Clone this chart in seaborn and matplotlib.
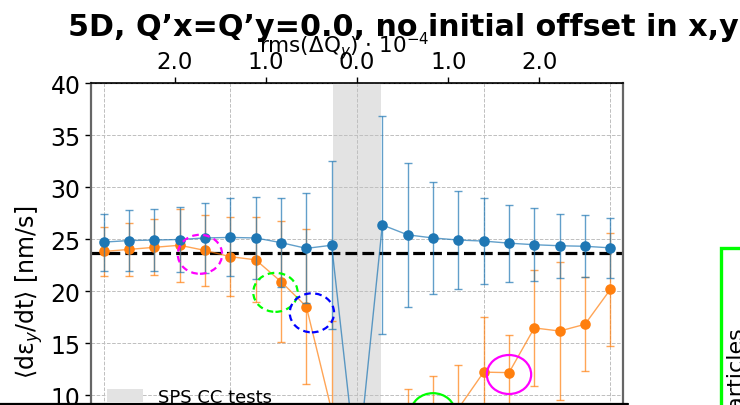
import matplotlib
matplotlib.use("Agg")
import matplotlib.pyplot as plt
from matplotlib.patches import Ellipse, Rectangle, Patch
from matplotlib.lines import Line2D
from matplotlib.ticker import FuncFormatter, MultipleLocator
import seaborn as sns

# scan steps (index 10 is the centre of the scan)
step = list(range(21))

# blue series: mean vertical emittance growth rate [nm/s] and its error
blue_rate = [24.7, 24.85, 24.9, 24.95, 25.1, 25.15, 25.1, 24.65, 24.1, 24.4,
             2.5, 26.35, 25.4, 25.1, 24.9, 24.8, 24.6, 24.45, 24.35, 24.3, 24.15]
blue_err = [2.75, 2.95, 3.0, 3.15, 3.4, 3.75, 3.95, 4.3, 5.3, 8.1,
            2.0, 10.45, 6.9, 5.4, 4.7, 4.15, 3.7, 3.5, 3.1, 3.0, 2.9]

# orange series: mean vertical emittance growth rate [nm/s] and its error
orange_rate = [23.8, 24.0, 24.2, 24.4, 23.9, 23.3, 23.0, 20.9, 18.5, 8.5,
               1.0, 3.0, 6.0, 7.5, 8.7, 12.2, 12.15, 16.45, 16.15, 16.8, 20.15]
orange_err = [2.4, 2.55, 2.7, 3.5, 3.4, 3.8, 4.1, 5.8, 7.45, 8.6,
              1.0, 3.0, 4.6, 4.3, 4.2, 5.3, 3.65, 5.6, 6.65, 4.5, 5.45]

# reference growth rate (dashed line)
ref_rate = 23.7

# scan range covered by the SPS CC tests
band_lo, band_hi = 9.05, 10.95

# top axis: rms tune spread, centred on step 10
centre_step = 10
steps_per_unit = 3.6
top_ticks = [-2.0, -1.0, 0.0, 1.0, 2.0]

# highlighted points: (series, step, dx, dy, colour, linestyle)
highlights = [
    ("orange", 4, -0.2, -0.37, "#ff00ff", (0, (3, 2))),
    ("orange", 7, -0.22, -1.03, "#00ff00", (0, (3, 2))),
    ("orange", 8, 0.22, -0.6, "#0000ff", (0, (3, 2))),
    ("orange", 16, 0.0, -0.18, "#ff00ff", "-"),
    ("orange", 13, 0.0, 0.8, "#00ff00", "-"),
]

BLUE = "#1f77b4"
ORANGE = "#ff7f0e"

sns.set_style("white")
plt.rcParams["font.family"] = ["DejaVu Sans"]
plt.rcParams.update({"text.color": "black", "axes.labelcolor": "black",
                     "xtick.color": "black", "ytick.color": "black"})

fig = plt.figure(figsize=(7.4, 4.06), dpi=100)
W, H = 740.0, 406.0
ax = fig.add_axes([91 / W, 1 - 500 / H, 532 / W, 416 / H])

ax.set_xlim(-0.5, 20.5)
ax.set_ylim(0, 40)

ax.grid(True, linestyle="--", color="0.75", linewidth=0.7)
ax.set_axisbelow(True)
ax.xaxis.set_major_locator(MultipleLocator(5))
ax.yaxis.set_major_locator(MultipleLocator(5))

ax.axvspan(band_lo, band_hi, color="0.89", zorder=0.5, lw=0, label="SPS CC tests")
ax.axhline(ref_rate, color="black", linestyle="--", linewidth=2.3, zorder=2)

# orange series
ax.errorbar(step, orange_rate, yerr=orange_err, fmt="none", ecolor=ORANGE,
            elinewidth=1.0, capsize=3, capthick=1.0, alpha=0.7, zorder=3)
sns.lineplot(x=step, y=orange_rate, ax=ax, color=ORANGE, linewidth=1.0,
             alpha=0.7, zorder=3, legend=False)
sns.scatterplot(x=step, y=orange_rate, ax=ax, color=ORANGE, s=58,
                linewidth=0, zorder=4, legend=False)

# blue series
ax.errorbar(step, blue_rate, yerr=blue_err, fmt="none", ecolor=BLUE,
            elinewidth=1.0, capsize=3, capthick=1.0, alpha=0.7, zorder=5)
sns.lineplot(x=step, y=blue_rate, ax=ax, color=BLUE, linewidth=1.0,
             alpha=0.7, zorder=5, legend=False)
sns.scatterplot(x=step, y=blue_rate, ax=ax, color=BLUE, s=58,
                linewidth=0, zorder=6, legend=False)

series = {"orange": orange_rate, "blue": blue_rate}
for name, i, dx, dy, col, ls in highlights:
    ax.add_patch(Ellipse((step[i] + dx, series[name][i] + dy), 1.75, 3.75,
                         fill=False, edgecolor=col, linewidth=1.6,
                         linestyle=ls, zorder=7))

ax.set_ylabel("⟨dε$_y$/dt⟩ [nm/s]", fontsize=17)
ax.set_xlabel("")
ax.tick_params(axis="y", labelsize=17, length=4, width=1, direction="out",
               left=True)
ax.tick_params(axis="x", bottom=True, labelsize=17)

for side in ("left", "right"):
    ax.spines[side].set_color("0.4")
    ax.spines[side].set_linewidth(1.6)
ax.spines["top"].set_color("black")
ax.spines["top"].set_linewidth(1.2)

sec = ax.secondary_xaxis(
    "top",
    functions=(lambda x: (x - centre_step) / steps_per_unit,
               lambda r: centre_step + steps_per_unit * r))
sec.set_xticks(top_ticks)
sec.xaxis.set_major_formatter(FuncFormatter(lambda v, p: f"{abs(v):.1f}"))
sec.tick_params(axis="x", labelsize=16.5, length=4, width=1, pad=3)
sec.set_xlabel(r"rms($\Delta$Q$_y$) $\cdot$ 10$^{-4}$", fontsize=15.5,
               labelpad=-1)
sec.xaxis.label.set_x(0.475)

leg = ax.legend(handles=[Patch(facecolor="0.89", edgecolor="none",
                               label="SPS CC tests")],
                loc="upper left", bbox_to_anchor=(0.0, 0.307), frameon=False,
                fontsize=13)

# slide title
fig.text(68 / W, 1 - 35.8 / H, "5D, Q’x=Q’y=0.0, no initial offset in x,y",
         fontfamily="DejaVu Sans", fontweight="bold", fontsize=21.7,
         color="black", ha="left", va="baseline", zorder=10)

# neighbouring panel frame and its label
fig.add_artist(Rectangle((720.5 / W, -0.2), 0.2, 1 - 248.5 / H + 0.2,
                         transform=fig.transFigure, fill=False,
                         edgecolor="#00ff00", linewidth=2.4, clip_on=False))
fig.text(741 / W, 1 - 326.7 / H, "particles", rotation=90,
         rotation_mode="anchor", ha="right", va="baseline", fontsize=16)

# slide separator line
fig.add_artist(Line2D([0, 628 / W], [1 - 404.5 / H] * 2, color="black",
                      linewidth=1.6, transform=fig.transFigure))

fig.savefig("out.png", dpi=100)
